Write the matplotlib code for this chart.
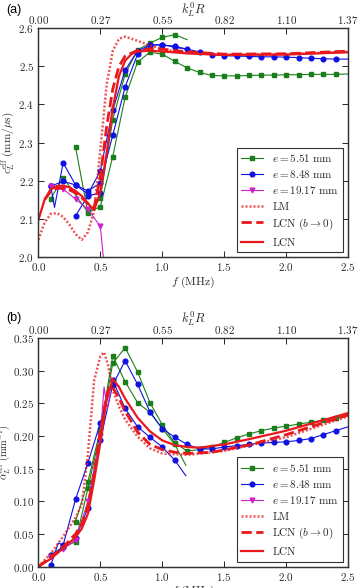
import numpy as np
import matplotlib
matplotlib.use('Agg')
import matplotlib.pyplot as plt
from matplotlib.ticker import FuncFormatter

plt.rcParams['mathtext.fontset'] = 'cm'
plt.rcParams['font.family'] = 'serif'
plt.rcParams['font.serif'] = ['DejaVu Serif']

top_ticks = [0.0, 0.5, 1.0, 1.5, 2.0, 2.5]
top_labels = ['0.00', '0.27', '0.55', '0.82', '1.10', '1.37']

# ---- (a) effective phase velocity
fa_g1 = [0.1, 0.2, 0.4, 0.5, 0.6, 0.7, 0.8, 0.9, 1.0, 1.1, 1.2, 1.3, 1.4, 1.5, 1.6, 1.7, 1.8, 1.9, 2.0, 2.1, 2.2, 2.3, 2.4, 2.5]
ca_g1 = [2.153, 2.208, 2.117, 2.132, 2.263, 2.419, 2.511, 2.537, 2.532, 2.513, 2.496, 2.484, 2.476, 2.475, 2.475, 2.476, 2.477, 2.477, 2.478, 2.478, 2.479, 2.479, 2.479, 2.480]
fa_g2 = [0.3, 0.4, 0.5, 0.6, 0.7, 0.8, 0.9, 1.0, 1.1, 1.2]
ca_g2 = [2.288, 2.115, 2.154, 2.36, 2.48, 2.543, 2.561, 2.576, 2.583, 2.57]

fa_b1 = [0.1, 0.2, 0.3, 0.4, 0.5, 0.6, 0.7, 0.8, 0.9, 1.0, 1.1, 1.2, 1.3, 1.4, 1.5, 1.6, 1.7, 1.8, 1.9, 2.0, 2.1, 2.2, 2.3, 2.4, 2.5]
ca_b1 = [2.186, 2.198, 2.189, 2.173, 2.194, 2.319, 2.446, 2.532, 2.556, 2.556, 2.553, 2.545, 2.538, 2.531, 2.528, 2.527, 2.526, 2.525, 2.525, 2.524, 2.523, 2.521, 2.520, 2.519, 2.519]
fa_b2 = [0.1, 0.13, 0.2, 0.3, 0.4, 0.5, 0.6, 0.7, 0.8, 0.9, 1.0, 1.1, 1.2]
ca_b2 = [2.186, 2.13, 2.247, 2.189, 2.165, 2.226, 2.385, 2.49, 2.54, 2.556, 2.557, 2.55, 2.545]
fa_b3 = [0.3, 0.4, 0.5]
ca_b3 = [2.108, 2.16, 2.168]

fa_m = [0.1, 0.2, 0.3, 0.4, 0.5, 0.53]
ca_m = [2.185, 2.178, 2.152, 2.125, 2.08, 1.98]

fa_lm = [0.0, 0.05, 0.1, 0.15, 0.2, 0.25, 0.3, 0.35, 0.4, 0.45, 0.5, 0.55, 0.6, 0.65, 0.7, 0.8, 0.9, 1.0, 1.2, 1.5, 2.0, 2.5]
ca_lm = [2.045, 2.09, 2.113, 2.115, 2.105, 2.085, 2.06, 2.045, 2.065, 2.12, 2.28, 2.45, 2.54, 2.572, 2.578, 2.567, 2.555, 2.545, 2.535, 2.530, 2.532, 2.538]
fa_lcn0 = [0.05, 0.1, 0.15, 0.2, 0.25, 0.3, 0.35, 0.4, 0.45, 0.5, 0.55, 0.6, 0.65, 0.7, 0.8, 0.9, 1.0, 1.2, 1.5, 2.0, 2.5]
ca_lcn0 = [2.15, 2.172, 2.18, 2.18, 2.176, 2.168, 2.155, 2.14, 2.13, 2.21, 2.34, 2.44, 2.50, 2.527, 2.542, 2.546, 2.545, 2.538, 2.532, 2.533, 2.54]
fa_lcn = [0.0, 0.05, 0.1, 0.15, 0.2, 0.25, 0.3, 0.35, 0.4, 0.45, 0.5, 0.55, 0.6, 0.65, 0.7, 0.75, 0.8, 0.9, 1.0, 1.2, 1.5, 2.0, 2.5]
ca_lcn = [2.097, 2.15, 2.178, 2.186, 2.187, 2.183, 2.173, 2.16, 2.14, 2.123, 2.17, 2.27, 2.39, 2.474, 2.515, 2.532, 2.539, 2.541, 2.539, 2.534, 2.530, 2.531, 2.537]

# ---- (b) effective attenuation
fb_g1 = [0.1, 0.2, 0.3, 0.4, 0.5, 0.6, 0.7, 0.8, 0.9, 1.0, 1.1, 1.2, 1.3, 1.4, 1.5, 1.6, 1.7, 1.8, 1.9, 2.0, 2.1, 2.2, 2.3, 2.4, 2.5]
ab_g1 = [0.018, 0.03, 0.038, 0.12, 0.205, 0.311, 0.335, 0.298, 0.251, 0.217, 0.189, 0.177, 0.179, 0.183, 0.190, 0.197, 0.203, 0.208, 0.212, 0.215, 0.218, 0.221, 0.224, 0.227, 0.231]
fb_g2 = [0.3, 0.4, 0.5, 0.6, 0.7, 0.8, 0.9, 1.0, 1.1, 1.19]
ab_g2 = [0.069, 0.13, 0.21, 0.322, 0.283, 0.251, 0.236, 0.211, 0.187, 0.155]

fb_b1 = [0.1, 0.2, 0.3, 0.4, 0.5, 0.6, 0.7, 0.8, 0.9, 1.0, 1.1, 1.2, 1.3, 1.4, 1.5, 1.6, 1.7, 1.8, 1.9, 2.0, 2.1, 2.2, 2.3, 2.4, 2.5]
ab_b1 = [0.017, 0.030, 0.043, 0.09, 0.193, 0.278, 0.315, 0.279, 0.237, 0.211, 0.198, 0.187, 0.180, 0.180, 0.183, 0.185, 0.187, 0.189, 0.190, 0.191, 0.193, 0.196, 0.202, 0.208, 0.214]
fb_b2 = [0.1, 0.16, 0.2, 0.3, 0.4, 0.5, 0.6, 0.7, 0.8, 0.9, 1.0, 1.1, 1.19]
ab_b2 = [0.002, 0.036, 0.033, 0.103, 0.159, 0.22, 0.285, 0.242, 0.214, 0.198, 0.183, 0.163, 0.139]

fb_m = [0.1, 0.2, 0.3, 0.4, 0.5, 0.53, 0.555, 0.58]
ab_m = [0.015, 0.027, 0.04, 0.1, 0.2, 0.275, 0.242, 0.265]

fb_lm = [0.0, 0.1, 0.2, 0.3, 0.35, 0.4, 0.45, 0.5, 0.53, 0.56, 0.6, 0.65, 0.7, 0.8, 0.9, 1.0, 1.2, 1.5, 2.0, 2.5]
ab_lm = [0.0, 0.02, 0.046, 0.075, 0.095, 0.173, 0.285, 0.322, 0.328, 0.31, 0.27, 0.245, 0.225, 0.199, 0.181, 0.173, 0.171, 0.177, 0.198, 0.23]
fb_lcn0 = [0.0, 0.1, 0.2, 0.3, 0.35, 0.4, 0.45, 0.5, 0.55, 0.58, 0.6, 0.65, 0.7, 0.8, 0.9, 1.0, 1.1, 1.2, 1.4, 1.7, 2.0, 2.5]
ab_lcn0 = [0.0, 0.014, 0.03, 0.05, 0.065, 0.092, 0.145, 0.205, 0.262, 0.277, 0.274, 0.258, 0.238, 0.206, 0.187, 0.179, 0.175, 0.173, 0.175, 0.186, 0.202, 0.232]
fb_lcn = [0.0, 0.1, 0.2, 0.3, 0.35, 0.4, 0.45, 0.5, 0.55, 0.6, 0.65, 0.7, 0.8, 0.9, 1.0, 1.1, 1.2, 1.3, 1.5, 1.7, 2.0, 2.5]
ab_lcn = [0.0, 0.012, 0.028, 0.045, 0.058, 0.081, 0.132, 0.19, 0.255, 0.287, 0.275, 0.257, 0.228, 0.207, 0.193, 0.186, 0.183, 0.182, 0.187, 0.195, 0.208, 0.235]

labels = [r'$e = 5.51\ \mathrm{mm}$', r'$e = 8.48\ \mathrm{mm}$', r'$e = 19.17\ \mathrm{mm}$',
          r'$\mathrm{LM}$', r'$\mathrm{LCN}\ (b \to 0)$', r'$\mathrm{LCN}$']

green = '#1a7f1a'
blue = '#1010e0'
mag = '#cc22cc'
red = '#e8181c'
txt = '#2a2a2a'

fig = plt.figure(figsize=(3.62, 5.88), dpi=100)
ax1 = fig.add_axes([0.106, 0.563, 0.856, 0.389])
ax2 = fig.add_axes([0.106, 0.0364, 0.856, 0.389])


def exp_line(ax, f, v, color, marker, label=None, skip=()):
    idx = [i for i in range(len(f)) if i not in skip]
    ax.plot(f, v, color=color, lw=0.8, marker=marker, ms=3.4, mec=color,
            markevery=idx, label=label)


# panel a
exp_line(ax1, fa_g1, ca_g1, green, 's', labels[0], skip=(len(fa_g1) - 1,))
exp_line(ax1, fa_g2, ca_g2, green, 's', skip=(len(fa_g2) - 1,))
exp_line(ax1, fa_b1, ca_b1, blue, 'o', labels[1], skip=(len(fa_b1) - 1,))
exp_line(ax1, fa_b2, ca_b2, blue, 'o', skip=(1, len(fa_b2) - 1))
exp_line(ax1, fa_b3, ca_b3, blue, 'o')
exp_line(ax1, fa_m, ca_m, mag, 'v', labels[2], skip=(len(fa_m) - 1,))
ax1.plot(fa_lm, ca_lm, color=red, lw=1.8, ls=(0, (0.8, 0.8)), alpha=0.75, label=labels[3])
ax1.plot(fa_lcn0, ca_lcn0, color=red, lw=2, ls='--', label=labels[4])
ax1.plot(fa_lcn, ca_lcn, color=red, lw=1.6, ls='-', label=labels[5])

# panel b
exp_line(ax2, fb_g1, ab_g1, green, 's', labels[0], skip=(len(fb_g1) - 1,))
exp_line(ax2, fb_g2, ab_g2, green, 's', skip=(len(fb_g2) - 1,))
exp_line(ax2, fb_b1, ab_b1, blue, 'o', labels[1], skip=(len(fb_b1) - 1,))
exp_line(ax2, fb_b2, ab_b2, blue, 'o', skip=(1, len(fb_b2) - 1))
exp_line(ax2, fb_m, ab_m, mag, 'v', labels[2], skip=(5, 6, 7))
ax2.plot(fb_lm, ab_lm, color=red, lw=1.8, ls=(0, (0.8, 0.8)), alpha=0.75, label=labels[3])
ax2.plot(fb_lcn0, ab_lcn0, color=red, lw=2, ls='--', label=labels[4])
ax2.plot(fb_lcn, ab_lcn, color=red, lw=1.6, ls='-', label=labels[5])

ax1.set_ylim(2.0, 2.6)
ax1.set_yticks(np.arange(2.0, 2.61, 0.1))
ax1.yaxis.set_major_formatter(FuncFormatter(lambda v, p: '$%.1f$' % v))
ax1.set_ylabel(r'$c_L^{\mathrm{eff}}\ \mathrm{(mm/}\mu\mathrm{s)}$', fontsize=8, color=txt)
ax1.yaxis.set_label_coords(-0.072, 0.5)

ax2.set_ylim(0.0, 0.35)
ax2.set_yticks(np.arange(0.0, 0.351, 0.05))
ax2.yaxis.set_major_formatter(FuncFormatter(lambda v, p: '$%.2f$' % v))
ax2.set_ylabel(r'$\alpha_L^{\mathrm{eff}}\ \mathrm{(mm}^{-1}\mathrm{)}$', fontsize=7.5, color=txt)
ax2.yaxis.set_label_coords(-0.081, 0.5)

for ax in (ax1, ax2):
    ax.set_xlim(0, 2.5)
    ax.set_xticks(top_ticks)
    ax.xaxis.set_major_formatter(FuncFormatter(lambda v, p: '$%.1f$' % v))
    ax.set_xlabel(r'$f\ \mathrm{(MHz)}$', fontsize=8.5, color=txt, labelpad=1)
    ax.tick_params(direction='in', length=4, width=0.6, labelsize=8,
                   labelcolor=txt, pad=3, right=True)
    for s in ax.spines.values():
        s.set_linewidth(0.9)
        s.set_color('#333333')
    leg = ax.legend(loc='lower right', fontsize=8, fancybox=False, framealpha=1,
                    borderaxespad=0.45, handlelength=2.0, labelspacing=0.36,
                    borderpad=0.4, handletextpad=0.8)
    leg.get_frame().set_edgecolor('#333333')
    leg.get_frame().set_linewidth(0.8)
    for t in leg.get_texts():
        t.set_color(txt)
    top = ax.twiny()
    top.set_xlim(0, 2.5)
    top.set_xticks(top_ticks)
    top.set_xticklabels(['$%s$' % s for s in top_labels])
    top.tick_params(direction='in', length=4, width=0.6, labelsize=8,
                    labelcolor=txt, pad=1.5)
    top.set_xlabel(r'$k_L^0R$', fontsize=9, color=txt, labelpad=0.5)
    for s in top.spines.values():
        s.set_linewidth(0.9)
        s.set_color('#333333')

fig.text(0.018, 0.983, '(a)', family='Liberation Sans', fontsize=9, va='center')
fig.text(0.018, 0.459, '(b)', family='Liberation Sans', fontsize=9, va='center')

fig.savefig('out.png', dpi=100)
